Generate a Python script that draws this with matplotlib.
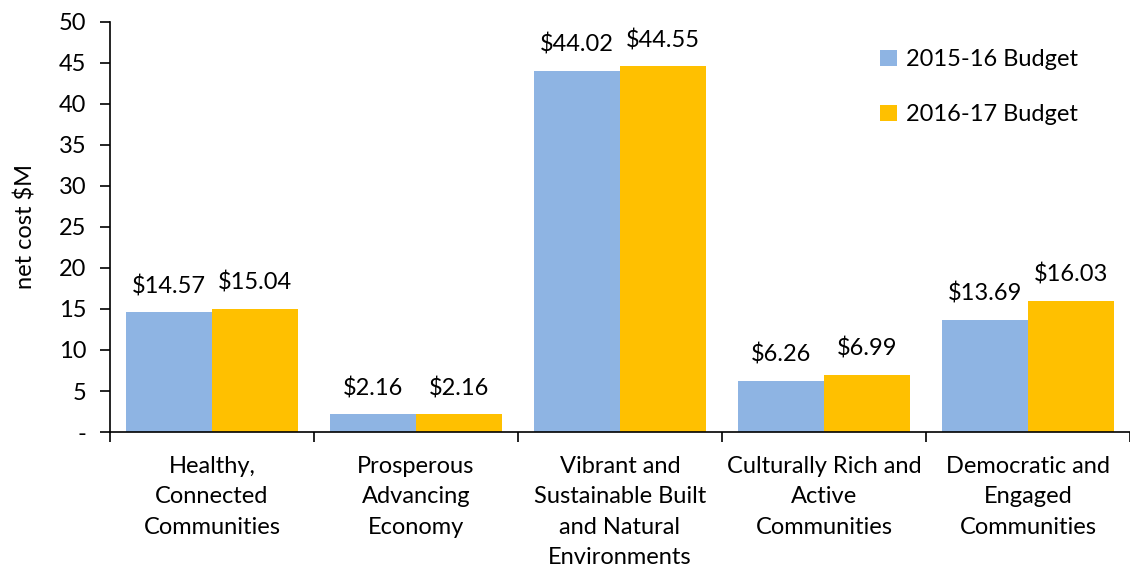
import matplotlib
matplotlib.use("Agg")
import matplotlib.pyplot as plt
import numpy as np

categories = [
    "Healthy,\nConnected\nCommunities",
    "Prosperous\nAdvancing\nEconomy",
    "Vibrant and\nSustainable Built\nand Natural\nEnvironments",
    "Culturally Rich and\nActive\nCommunities",
    "Democratic and\nEngaged\nCommunities",
]
budget_2015 = [14.57, 2.16, 44.02, 6.26, 13.69]
budget_2016 = [15.04, 2.16, 44.55, 6.99, 16.03]
series_names = ["2015-16 Budget", "2016-17 Budget"]

BLUE = "#8EB4E3"
GOLD = "#FFC000"
FS = 17

plt.rcParams["font.family"] = ["Lato", "DejaVu Sans"]

fig = plt.figure(figsize=(11.3, 5.73), dpi=100)
ax = fig.add_axes([0.0973, 0.246, 0.9027, 0.716])

x = np.arange(len(categories))
w = 0.42
b1 = ax.bar(x - w / 2, budget_2015, w, color=BLUE, label=series_names[0])
b2 = ax.bar(x + w / 2, budget_2016, w, color=GOLD, label=series_names[1])

for bars, vals in ((b1, budget_2015), (b2, budget_2016)):
    for bar, v in zip(bars, vals):
        ax.annotate(f"${v:.2f}", (bar.get_x() + bar.get_width() / 2, v),
                    xytext=(0, 11), textcoords="offset points",
                    ha="center", va="bottom", fontsize=FS)

ax.set_xlim(-0.5, len(categories) - 0.5)
ax.set_ylim(0, 50)
yt = np.arange(0, 55, 5)
ax.set_yticks(yt)
ax.set_yticklabels(["-"] + [str(v) for v in yt[1:]], fontsize=FS)
ax.set_ylabel("net cost $M", fontsize=FS, labelpad=16)

ax.set_xticks(np.arange(-0.5, len(categories), 1.0))
ax.set_xticklabels([])
ax.set_xticks(x, minor=True)
ax.set_xticklabels(categories, minor=True, fontsize=FS, linespacing=1.56, va="top")
ax.tick_params(axis="x", which="minor", length=0, pad=17)
ax.tick_params(axis="x", which="major", length=7, width=1.2, direction="out")
ax.tick_params(axis="y", length=7, width=1.2, direction="out", pad=10)

ax.spines["top"].set_visible(False)
ax.spines["right"].set_visible(False)
ax.spines["left"].set_linewidth(1.2)
ax.spines["bottom"].set_linewidth(1.2)

ax.legend(loc="upper right", bbox_to_anchor=(0.97, 0.985), frameon=False,
          fontsize=FS, handlelength=0.7, handleheight=0.7, handletextpad=0.4,
          labelspacing=1.45)

fig.savefig("out.png", dpi=100)
